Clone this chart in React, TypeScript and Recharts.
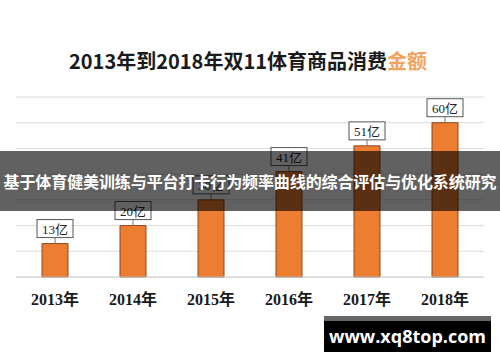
import { BarChart, Bar, XAxis, YAxis, CartesianGrid, LabelList } from 'recharts';

const years = ['2013年', '2014年', '2015年', '2016年', '2017年', '2018年'];
const amounts = [13, 20, 30, 41, 51, 60];
const yTicks = [0, 10, 20, 30, 40, 50, 60, 70];

const data = years.map((year, i) => ({ year, value: amounts[i] }));

const ORANGE = '#ED7D31';

function ValueLabel(props: any) {
  const { x, y, width, value } = props;
  const cx = x + width / 2;
  const w = 36;
  const h = 18;
  return (
    <g>
      <line x1={cx} y1={y - 6} x2={cx} y2={y} stroke="#777" strokeWidth={1} />
      <rect x={cx - w / 2} y={y - 6 - h} width={w} height={h} fill="#fff" stroke="#555" strokeWidth={1} />
      <text
        x={cx}
        y={y - 6 - h / 2 + 1}
        textAnchor="middle"
        dominantBaseline="central"
        fontSize={13}
        fontFamily="'Liberation Serif', 'Noto Sans CJK SC'"
        fill="#222"
      >
        {`${value}亿`}
      </text>
    </g>
  );
}

function YearTick(props: any) {
  const { x, y, payload } = props;
  return (
    <text
      x={x}
      y={y + 20}
      textAnchor="middle"
      fontSize={16}
      fontWeight="bold"
      fontFamily="'Liberation Serif', 'Noto Sans CJK SC'"
      fill="#1a1a1a"
    >
      {payload.value}
    </text>
  );
}

export default function App() {
  return (
    <div style={{ position: 'absolute', top: 0, left: 0, width: 500, height: 362, background: '#fff', overflow: 'hidden' }}>
      <div
        style={{
          position: 'absolute',
          top: 46,
          left: 0,
          width: 496,
          textAlign: 'center',
          fontFamily: "'Noto Sans CJK SC', sans-serif",
          fontWeight: 'bold',
          fontSize: 20,
          lineHeight: '30px',
          color: '#1a1a1a',
        }}
      >
        2013年到2018年双11体育商品消费<span style={{ color: '#F3A35C' }}>金额</span>
      </div>
      <BarChart width={500} height={362} data={data} margin={{ top: 97, right: 16, left: 16, bottom: 0 }}>
        <CartesianGrid vertical={false} stroke="#dcdcdc" />
        <YAxis hide domain={[0, 70]} ticks={yTicks} width={0} />
        <XAxis
          dataKey="year"
          height={85}
          axisLine={{ stroke: '#d0d0d0' }}
          tickLine={false}
          tick={<YearTick />}
          interval={0}
        />
        <Bar dataKey="value" fill={ORANGE} stroke="#8a4a1c" strokeWidth={1} barSize={26} isAnimationActive={false}>
          <LabelList dataKey="value" content={<ValueLabel />} />
        </Bar>
      </BarChart>
      <div
        style={{
          position: 'absolute',
          top: 151,
          left: 0,
          width: 500,
          height: 60,
          background: 'rgba(0,0,0,0.62)',
          color: '#fff',
          fontFamily: "'Noto Sans CJK SC', sans-serif",
          fontWeight: 'bold',
          fontSize: 16,
          lineHeight: '60px',
          textAlign: 'center',
          whiteSpace: 'nowrap',
          letterSpacing: -0.1,
        }}
      >
        基于体育健美训练与平台打卡行为频率曲线的综合评估与优化系统研究
      </div>
      <div
        style={{
          position: 'absolute',
          top: 316,
          left: 324,
          width: 167,
          height: 36,
          background: '#000',
          borderTop: '5px solid #666',
          boxSizing: 'border-box',
          color: '#fff',
          fontFamily: "'Open Sans', 'DejaVu Sans', sans-serif",
          fontWeight: 'bold',
          fontSize: 18,
          lineHeight: '31px',
          textAlign: 'center',
        }}
      >
        www.xq8top.com
      </div>
    </div>
  );
}
